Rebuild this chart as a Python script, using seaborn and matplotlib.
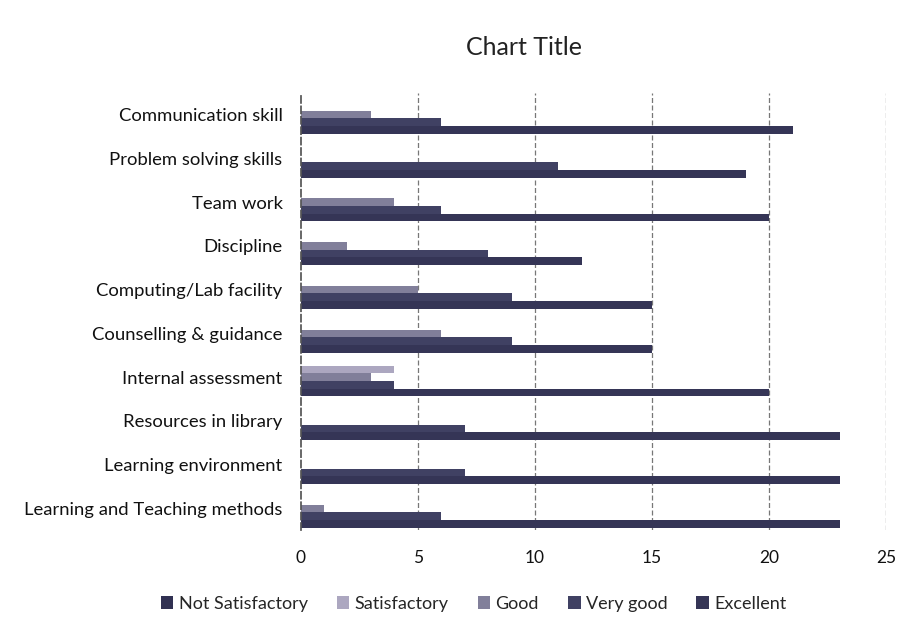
import numpy as np
import pandas as pd
import matplotlib as mpl
import matplotlib.pyplot as plt
import seaborn as sns

# -----------------------
# data
# -----------------------
categories = [
    "Communication skill",
    "Problem solving skills",
    "Team work",
    "Discipline",
    "Computing/Lab facility",
    "Counselling & guidance",
    "Internal assessment",
    "Resources in library",
    "Learning environment",
    "Learning and Teaching methods",
]
series = ["Not Satisfactory", "Satisfactory", "Good", "Very good", "Excellent"]

not_satisfactory = [0, 0, 0, 0, 0, 0, 0, 0, 0, 0]
satisfactory = [0, 0, 0, 0, 0, 0, 4, 0, 0, 0]
good = [3, 0, 4, 2, 5, 6, 3, 0, 0, 1]
very_good = [6, 11, 6, 8, 9, 9, 4, 7, 7, 6]
excellent = [21, 19, 20, 12, 15, 15, 20, 23, 23, 23]

colors = ["#2b2c58", "#aaa3c4", "#7d7a9f", "#3a3b69", "#2f2f5c"]

# -----------------------
# long-form table
# -----------------------
vals = [not_satisfactory, satisfactory, good, very_good, excellent]
rows = []
for s, v in zip(series, vals):
    for c, x in zip(categories, v):
        rows.append({"category": c, "rating": s, "count": x})
df = pd.DataFrame(rows)

sns.set_theme(style="white")
plt.rcParams["font.family"] = ["Lato", "DejaVu Sans"]

fig = plt.figure(figsize=(9.11, 6.39), dpi=100)
ax = fig.add_axes([0.33, 0.17, 0.643, 0.685])

sns.barplot(
    data=df, y="category", x="count", hue="rating",
    order=categories, hue_order=series, palette=colors,
    orient="h", width=0.88, gap=0, linewidth=0, ax=ax, legend=True,
)

ax.set_xlim(0, 25)
ax.set_xticks([0, 5, 10, 15, 20, 25])
ax.set_xlabel("")
ax.set_ylabel("")
ax.tick_params(axis="both", length=0, colors="#111111")
ax.tick_params(axis="y", labelsize=13.3, pad=13)
ax.tick_params(axis="x", labelsize=12.5, pad=14)

for x in [5, 10, 15, 20, 25]:
    ax.axvline(x, color="#777777", linewidth=0.9, linestyle=(0, (4, 2)), zorder=0)

for side in ["top", "right", "bottom"]:
    ax.spines[side].set_visible(False)
ax.spines["left"].set_color("#555555")
ax.spines["left"].set_linestyle((0, (4, 2)))

fig.text(0.575, 0.925, "Chart Title", ha="center", va="center",
         fontsize=18, color="#222222")

handles, labels = ax.get_legend_handles_labels()
ax.legend_.remove()
fig.legend(handles, labels, loc="center", bbox_to_anchor=(0.52, 0.055),
           ncol=5, frameon=False, fontsize=13, handlelength=0.7,
           handleheight=0.7, handletextpad=0.3, columnspacing=1.6)

fig.savefig("out.png", dpi=100, facecolor="white")
